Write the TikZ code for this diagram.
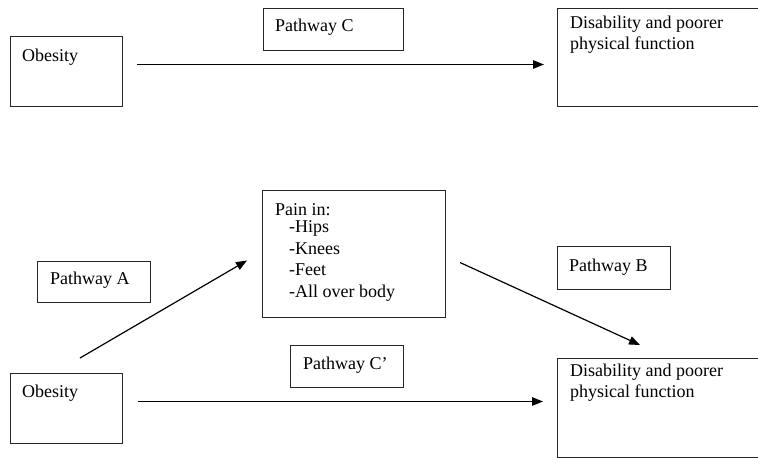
\documentclass[tikz,border=0pt]{standalone}
\usepackage{fontspec}
\setmainfont{Liberation Serif}
\usetikzlibrary{arrows.meta,calc}
\tikzset{
  boxnode/.style={draw=black!85, line width=1pt, rectangle, inner sep=0pt, anchor=north west},
  txt/.style={inner sep=0pt, anchor=base west, font=\fontsize{18}{21.5}\selectfont, align=left},
  conn/.style={line width=1.2pt, -{Triangle[length=11pt,width=8.5pt]}}
}
\begin{document}
\begin{tikzpicture}[x=1pt,y=-1pt]
\useasboundingbox (0,0) rectangle (758,460);
% boxes
\node[boxnode, minimum width=112pt, minimum height=70pt] (ob1) at (10,36) {};
\node[boxnode, minimum width=140pt, minimum height=42pt] (pc) at (263,8) {};
\node[boxnode, minimum width=206pt, minimum height=98pt] (dis1) at (557,8) {};
\node[boxnode, minimum width=183pt, minimum height=127pt] (pain) at (262,190) {};
\node[boxnode, minimum width=113pt, minimum height=41pt] (pa) at (37,261) {};
\node[boxnode, minimum width=113pt, minimum height=43pt] (pb) at (557,246) {};
\node[boxnode, minimum width=113pt, minimum height=42pt] (pcp) at (290,345) {};
\node[boxnode, minimum width=112pt, minimum height=70pt] (ob2) at (10,373) {};
\node[boxnode, minimum width=206pt, minimum height=99pt] (dis2) at (557,358) {};
% texts
\node[txt] (tob1) at (22,62) {Obesity};
\node[txt] (tpc) at (275,32) {Pathway C};
\node[txt, anchor=north west] (tdis1) at (570,15.5) {Disability and poorer\\physical function};
\node[txt] (tpain) at (275,215) {Pain in:};
\node[txt, anchor=north west] (tlist) at (289,220.5) {-Hips\\-Knees\\-Feet\\-All over body};
\node[txt] (tpa) at (50,284) {Pathway A};
\node[txt] (tpb) at (569,271) {Pathway B};
\node[txt] (tpcp) at (303,369) {Pathway C'};
\node[txt] (tob2) at (22,397) {Obesity};
\node[txt, anchor=north west] (tdis2) at (570,363.5) {Disability and poorer\\physical function};
% connector ends
\coordinate (c1s) at ($(ob1.east)+(14,-7)$);
\coordinate (c1e) at ($(dis1.west)+(-13,7)$);
\coordinate (as) at ($(ob2.north west)+(70,-15)$);
\coordinate (ae) at ($(pain.west)+(-15,6.5)$);
\coordinate (bs) at ($(pain.east)+(14,8.5)$);
\coordinate (be) at ($(dis2.north west)+(83,-13)$);
\coordinate (c2s) at ($(ob2.east)+(15,-7)$);
\coordinate (c2e) at ($(dis2.west)+(-14,-6.5)$);
\draw[conn] (c1s) -- (c1e);
\draw[conn] (as) -- (ae);
\draw[conn] (bs) -- (be);
\draw[conn] (c2s) -- (c2e);
\end{tikzpicture}
\end{document}
